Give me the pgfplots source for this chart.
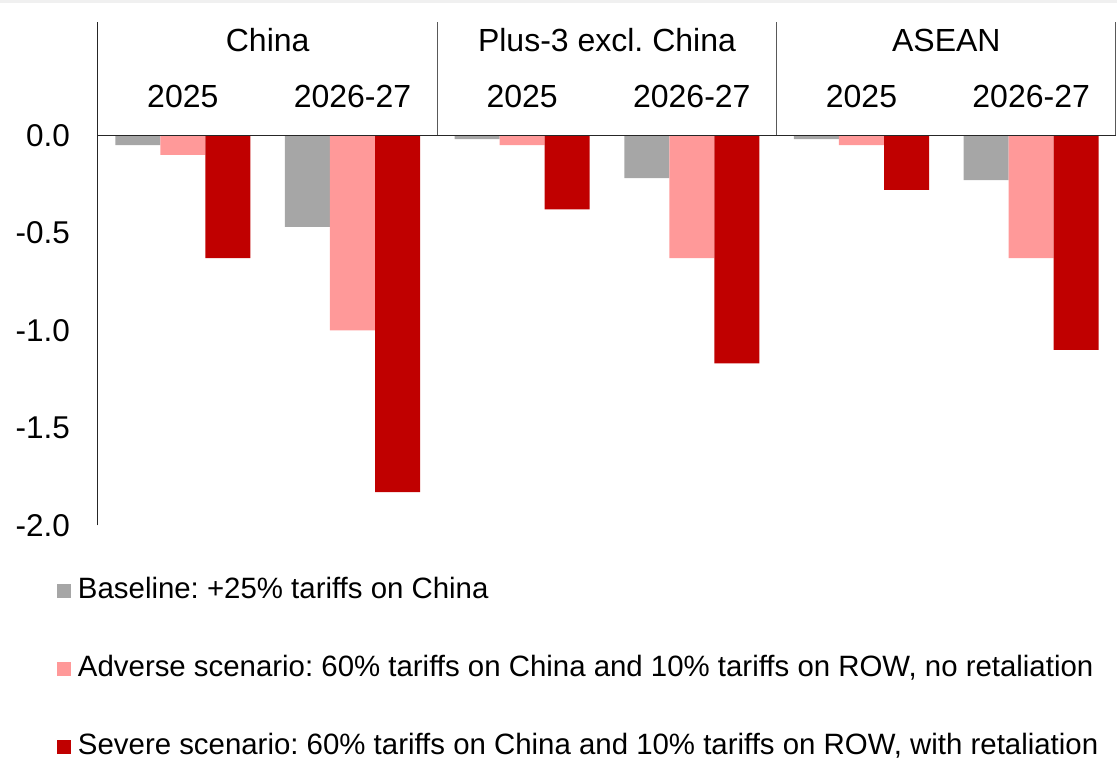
\documentclass[border=0pt]{standalone}
\usepackage{fontspec}
\setmainfont{Liberation Sans}
\usepackage{pgfplots}
\pgfplotsset{compat=1.18}
\definecolor{cbase}{HTML}{A6A6A6}
\definecolor{cadv}{HTML}{FF9999}
\definecolor{csev}{HTML}{C00000}
\frenchspacing
\begin{document}
\begin{tikzpicture}
\path[use as bounding box] (-98pt,-238.7pt) rectangle (1019pt,525.3pt);
\fill[black!6] (-98pt,522pt) rectangle (1019pt,525.3pt);
\begin{axis}[
  scale only axis, width=1018pt, height=503.7pt,
  xmin=-0.5, xmax=5.5, ymin=-2, ymax=0.583,
  axis line style={draw=none},
  xtick=\empty,
  ytick={-2,-1.5,-1,-0.5,0},
  major tick length=0pt,
  yticklabel style={/pgf/number format/fixed, /pgf/number format/fixed zerofill,
    /pgf/number format/precision=1, /pgf/number format/assume math mode=true,
    font=\fontsize{31.5}{37}\selectfont, inner sep=0pt, xshift=-28pt},
  ybar, bar width=0.2655,
  clip=false,
  legend image code/.code={\fill[#1] (0pt,-6.3pt) rectangle (14pt,7.7pt);},
  legend cell align=left,
  legend style={at={(rel axis cs:0,0)}, anchor=north west, xshift=-41pt, yshift=-52.5pt,
    draw=none, fill=none, inner sep=0pt, outer sep=0pt,
    font=\fontsize{29.4}{35}\selectfont, row sep=51pt, column sep=7pt,
    cells={anchor=west},
    nodes={inner sep=0pt, text height=20.8pt, text depth=6.2pt}},
]
\addplot[fill=cbase, draw=none, bar shift=-0.2655] coordinates {(0,-0.05) (1,-0.47) (2,-0.02) (3,-0.22) (4,-0.02) (5,-0.23)};
\addlegendentry{Baseline: +25\% tariffs on China}
\addplot[fill=cadv, draw=none, bar shift=0] coordinates {(0,-0.10) (1,-1.00) (2,-0.05) (3,-0.63) (4,-0.05) (5,-0.63)};
\addlegendentry{Adverse scenario: 60\% tariffs on China and 10\% tariffs on ROW, no retaliation}
\addplot[fill=csev, draw=none, bar shift=0.2655] coordinates {(0,-0.63) (1,-1.83) (2,-0.38) (3,-1.17) (4,-0.28) (5,-1.10)};
\addlegendentry{Severe scenario: 60\% tariffs on China and 10\% tariffs on ROW, with retaliation}
\draw[black!85, line width=1pt] (axis cs:-0.5,-2) -- (axis cs:-0.5,0.583);
\draw[black!85, line width=1pt] (axis cs:-0.5,0) -- (axis cs:5.5,0);
\draw[black!65, line width=1pt] (axis cs:1.5,0) -- (axis cs:1.5,0.583);
\draw[black!65, line width=1pt] (axis cs:3.5,0) -- (axis cs:3.5,0.583);
\draw[black!65, line width=1pt] (axis cs:5.5,0) -- (axis cs:5.5,0.583);
\node[anchor=base, font=\fontsize{32}{38}\selectfont] at (axis cs:0.5,0.429) {China};
\node[anchor=base, font=\fontsize{32}{38}\selectfont] at (axis cs:2.5,0.429) {Plus-3 excl. China};
\node[anchor=base, font=\fontsize{32}{38}\selectfont] at (axis cs:4.5,0.429) {ASEAN};
\node[anchor=base, font=\fontsize{32}{38}\selectfont] at (axis cs:0,0.14) {2025};
\node[anchor=base, font=\fontsize{32}{38}\selectfont] at (axis cs:1,0.14) {2026-27};
\node[anchor=base, font=\fontsize{32}{38}\selectfont] at (axis cs:2,0.14) {2025};
\node[anchor=base, font=\fontsize{32}{38}\selectfont] at (axis cs:3,0.14) {2026-27};
\node[anchor=base, font=\fontsize{32}{38}\selectfont] at (axis cs:4,0.14) {2025};
\node[anchor=base, font=\fontsize{32}{38}\selectfont] at (axis cs:5,0.14) {2026-27};
\end{axis}
\end{tikzpicture}
\end{document}
